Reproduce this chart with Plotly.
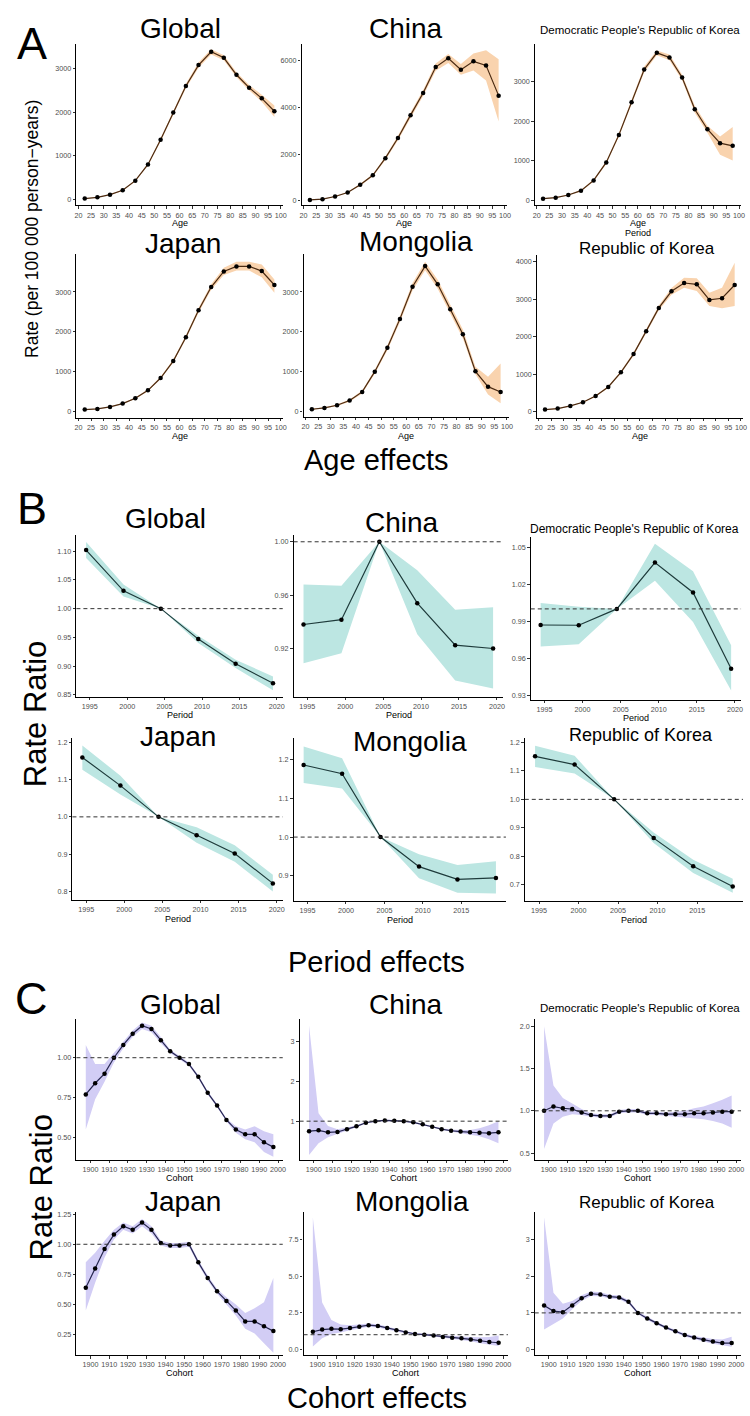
import plotly.graph_objects as go

W, H = 750, 1416

# ---------------- data ----------------
countries = ["Global", "China", "Democratic People's Republic of Korea",
             "Japan", "Mongolia", "Republic of Korea"]

age_mid = [22.5, 27.5, 32.5, 37.5, 42.5, 47.5, 52.5, 57.5, 62.5, 67.5,
           72.5, 77.5, 82.5, 87.5, 92.5, 97.5]
age_ticks = [20, 25, 30, 35, 40, 45, 50, 55, 60, 65, 70, 75, 80, 85, 90, 95, 100]

age_global = [25, 53, 114, 213, 433, 805, 1367, 1989, 2597, 3075, 3379, 3242, 2855, 2559, 2316, 2020]
age_global_lo = [20, 47, 105, 200, 415, 780, 1330, 1945, 2545, 3015, 3320, 3185, 2800, 2500, 2235, 1890]
age_global_hi = [30, 60, 123, 226, 451, 830, 1404, 2033, 2649, 3135, 3438, 3300, 2910, 2620, 2400, 2150]

age_china = [43, 72, 187, 359, 689, 1091, 1823, 2684, 3660, 4607, 5713, 6086, 5598, 5957, 5784, 4493]
age_china_lo = [35, 62, 170, 335, 650, 1040, 1750, 2590, 3550, 4480, 5550, 5885, 5383, 5569, 5138, 3387]
age_china_hi = [51, 82, 204, 383, 728, 1142, 1896, 2778, 3770, 4734, 5860, 6272, 5842, 6287, 6430, 6043]

age_dprk = [42, 67, 134, 244, 504, 958, 1655, 2479, 3311, 3731, 3613, 3109, 2303, 1798, 1445, 1378]
age_dprk_lo = [35, 58, 120, 225, 475, 920, 1605, 2415, 3240, 3670, 3540, 3040, 2215, 1710, 1151, 1008]
age_dprk_hi = [49, 76, 148, 263, 533, 996, 1705, 2543, 3382, 3792, 3686, 3178, 2391, 1886, 1613, 1857]

age_japan = [42, 58, 109, 192, 326, 526, 836, 1262, 1863, 2540, 3125, 3518, 3643, 3643, 3526, 3175]
age_japan_lo = [36, 51, 100, 180, 310, 505, 808, 1225, 1815, 2480, 3055, 3430, 3540, 3540, 3370, 2983]
age_japan_hi = [48, 65, 118, 204, 342, 547, 864, 1299, 1911, 2600, 3195, 3610, 3760, 3760, 3690, 3317]

age_mongolia = [58, 92, 158, 275, 492, 1000, 1600, 2325, 3133, 3650, 3192, 2567, 1942, 1008, 625, 492]
age_mongolia_lo = [45, 76, 138, 248, 455, 950, 1535, 2245, 3040, 3545, 3080, 2450, 1830, 935, 425, 208]
age_mongolia_hi = [71, 108, 178, 302, 529, 1050, 1665, 2405, 3226, 3760, 3305, 2685, 2060, 1125, 875, 1208]

age_rok = [53, 80, 151, 248, 417, 656, 1047, 1534, 2146, 2767, 3211, 3432, 3397, 2980, 3024, 3379]
age_rok_lo = [45, 70, 138, 232, 396, 630, 1013, 1492, 2095, 2705, 3120, 3308, 3220, 2820, 2758, 2820]
age_rok_hi = [61, 90, 164, 264, 438, 682, 1081, 1576, 2197, 2830, 3300, 3574, 3557, 3175, 3308, 3973]

period_mid = [1994.5, 1999.5, 2004.5, 2009.5, 2014.5, 2019.5]
period_ticks = [1995, 2000, 2005, 2010, 2015, 2020]
period_ticks_short = [1995, 2000, 2005, 2010, 2015]

per_global = [1.102, 1.031, 1.0, 0.947, 0.904, 0.870]
per_global_lo = [1.088, 1.021, 1.0, 0.940, 0.8965, 0.858]
per_global_hi = [1.116, 1.042, 1.0, 0.953, 0.911, 0.882]

per_china = [0.938, 0.9416, 1.0, 0.954, 0.9225, 0.920]
per_china_lo = [0.909, 0.9165, 1.0, 0.9307, 0.896, 0.890]
per_china_hi = [0.968, 0.967, 1.0, 0.9786, 0.949, 0.951]

per_dprk = [0.987, 0.9868, 1.0, 1.0374, 1.0133, 0.9517]
per_dprk_lo = [0.9696, 0.9715, 1.0, 1.0227, 0.9895, 0.934]
per_dprk_hi = [1.0047, 1.0018, 1.0, 1.0527, 1.0304, 0.9707]

per_japan = [1.159, 1.0836, 1.0, 0.951, 0.902, 0.822]
per_japan_lo = [1.126, 1.06, 1.0, 0.931, 0.88, 0.80]
per_japan_hi = [1.191, 1.11, 1.0, 0.972, 0.924, 0.845]

per_mongolia = [1.1855, 1.163, 1.0, 0.924, 0.891, 0.895]
per_mongolia_lo = [1.139, 1.125, 1.0, 0.894, 0.857, 0.855]
per_mongolia_hi = [1.233, 1.203, 1.0, 0.956, 0.928, 0.938]

per_rok = [1.151, 1.122, 1.0, 0.864, 0.765, 0.694]
per_rok_lo = [1.114, 1.091, 1.0, 0.847, 0.742, 0.672]
per_rok_hi = [1.188, 1.153, 1.0, 0.884, 0.788, 0.721]

cohort_mid = [1897.5, 1902.5, 1907.5, 1912.5, 1917.5, 1922.5, 1927.5, 1932.5, 1937.5,
              1942.5, 1947.5, 1952.5, 1957.5, 1962.5, 1967.5, 1972.5, 1977.5, 1982.5,
              1987.5, 1992.5, 1997.5]
cohort_ticks = [1900, 1910, 1920, 1930, 1940, 1950, 1960, 1970, 1980, 1990, 2000]

coh_global = [0.77, 0.84, 0.90, 1.00, 1.08, 1.15, 1.20, 1.18, 1.11, 1.04, 1.00, 0.96, 0.88, 0.78, 0.70, 0.61, 0.55, 0.52, 0.52, 0.47, 0.44]
coh_global_lo = [0.55, 0.74, 0.85, 0.97, 1.06, 1.13, 1.18, 1.16, 1.09, 1.03, 0.99, 0.95, 0.87, 0.77, 0.69, 0.60, 0.53, 0.49, 0.47, 0.41, 0.38]
coh_global_hi = [1.08, 0.96, 0.96, 1.03, 1.10, 1.17, 1.22, 1.20, 1.13, 1.05, 1.01, 0.97, 0.89, 0.79, 0.71, 0.62, 0.57, 0.55, 0.57, 0.54, 0.52]

coh_china = [0.75, 0.77, 0.72, 0.73, 0.80, 0.87, 0.96, 1.00, 1.02, 1.01, 1.00, 0.97, 0.92, 0.86, 0.80, 0.76, 0.74, 0.72, 0.71, 0.70, 0.72]
coh_china_lo = [0.15, 0.45, 0.60, 0.68, 0.77, 0.85, 0.94, 0.98, 1.00, 0.99, 0.98, 0.95, 0.90, 0.84, 0.78, 0.73, 0.70, 0.66, 0.62, 0.55, 0.45]
coh_china_hi = [3.40, 1.20, 0.88, 0.80, 0.84, 0.90, 0.98, 1.02, 1.04, 1.03, 1.02, 0.99, 0.94, 0.88, 0.82, 0.79, 0.78, 0.78, 0.82, 0.90, 1.00]

coh_dprk = [1.00, 1.05, 1.03, 1.02, 0.98, 0.95, 0.94, 0.94, 0.99, 1.00, 1.00, 0.97, 0.97, 0.96, 0.96, 0.96, 0.97, 0.97, 0.98, 0.99, 0.99]
coh_dprk_lo = [0.55, 0.85, 0.93, 0.96, 0.95, 0.93, 0.92, 0.92, 0.97, 0.98, 0.98, 0.95, 0.95, 0.94, 0.93, 0.92, 0.91, 0.90, 0.88, 0.85, 0.80]
coh_dprk_hi = [2.00, 1.30, 1.15, 1.08, 1.02, 0.97, 0.96, 0.96, 1.01, 1.02, 1.02, 0.99, 0.99, 0.98, 0.99, 1.00, 1.03, 1.05, 1.09, 1.13, 1.18]

coh_japan = [0.64, 0.80, 0.96, 1.08, 1.15, 1.12, 1.18, 1.12, 1.01, 0.99, 0.99, 1.00, 0.85, 0.72, 0.61, 0.53, 0.45, 0.36, 0.36, 0.32, 0.28]
coh_japan_lo = [0.45, 0.68, 0.89, 1.04, 1.12, 1.09, 1.15, 1.09, 0.99, 0.97, 0.97, 0.98, 0.83, 0.70, 0.59, 0.50, 0.41, 0.30, 0.26, 0.18, 0.10]
coh_japan_hi = [0.85, 0.93, 1.03, 1.12, 1.18, 1.15, 1.21, 1.15, 1.03, 1.01, 1.01, 1.02, 0.87, 0.74, 0.63, 0.56, 0.50, 0.43, 0.47, 0.52, 0.72]

coh_mongolia = [1.20, 1.35, 1.40, 1.38, 1.45, 1.55, 1.65, 1.60, 1.45, 1.30, 1.15, 1.05, 1.00, 0.95, 0.85, 0.80, 0.75, 0.68, 0.58, 0.50, 0.45]
coh_mongolia_lo = [0.20, 0.75, 1.05, 1.15, 1.30, 1.45, 1.55, 1.50, 1.36, 1.22, 1.08, 0.98, 0.93, 0.87, 0.77, 0.71, 0.64, 0.55, 0.42, 0.30, 0.22]
coh_mongolia_hi = [9.00, 3.20, 2.00, 1.70, 1.65, 1.68, 1.76, 1.71, 1.55, 1.40, 1.23, 1.13, 1.08, 1.04, 0.94, 0.90, 0.88, 0.85, 0.82, 0.85, 0.95]

coh_rok = [1.20, 1.05, 1.02, 1.20, 1.40, 1.52, 1.50, 1.44, 1.42, 1.30, 1.00, 0.85, 0.72, 0.60, 0.50, 0.40, 0.33, 0.27, 0.22, 0.18, 0.18]
coh_rok_lo = [0.55, 0.70, 0.85, 1.10, 1.33, 1.46, 1.45, 1.39, 1.37, 1.25, 0.96, 0.81, 0.68, 0.56, 0.46, 0.36, 0.29, 0.22, 0.16, 0.11, 0.08]
coh_rok_hi = [3.60, 1.55, 1.25, 1.32, 1.48, 1.58, 1.56, 1.49, 1.47, 1.35, 1.04, 0.89, 0.76, 0.64, 0.54, 0.44, 0.37, 0.32, 0.29, 0.28, 0.35]

# ---------------- styling helpers ----------------
FONT = "Liberation Sans, Arial, sans-serif"
fig = go.Figure()


def fx(p):
    return p / W


def fy(p):
    return 1 - p / H


counter = [0]


def add_panel(box, xs, ys, lo, hi, xr, yr, xtv, ytv, yfmt, fill, lc, ref):
    counter[0] += 1
    n = counter[0]
    xa = "x" if n == 1 else f"x{n}"
    ya = "y" if n == 1 else f"y{n}"
    xk = "xaxis" if n == 1 else f"xaxis{n}"
    yk = "yaxis" if n == 1 else f"yaxis{n}"
    x0, x1, y0, y1 = box
    common = dict(showline=True, linecolor="black", linewidth=1.2, ticks="outside",
                  ticklen=2.5, tickwidth=1, tickcolor="#333333", showgrid=False,
                  zeroline=False, fixedrange=True, tickangle=0,
                  tickfont=dict(size=7.2, color="#4D4D4D", family=FONT))
    fig.update_layout({
        xk: dict(domain=[fx(x0), fx(x1)], range=xr, anchor=ya, tickvals=xtv, **common),
        yk: dict(domain=[fy(y1), fy(y0)], range=yr, anchor=xa, tickvals=ytv,
                 tickformat=yfmt, **common),
    })
    fig.add_trace(go.Scatter(x=list(xs) + list(xs)[::-1], y=list(hi) + list(lo)[::-1],
                             fill="toself", fillcolor=fill, line=dict(width=0),
                             mode="lines", hoverinfo="skip", showlegend=False,
                             xaxis=xa, yaxis=ya))
    if ref:
        fig.add_shape(type="line", xref=f"{xa} domain", yref=ya, x0=0, x1=1, y0=1, y1=1,
                      line=dict(color="#333333", width=1, dash="4px,3px"), layer="above")
    fig.add_trace(go.Scatter(x=xs, y=ys, mode="lines+markers",
                             line=dict(color=lc, width=1.2),
                             marker=dict(color="black", size=4.5),
                             showlegend=False, xaxis=xa, yaxis=ya))


A_FILL, A_LINE = "#F9D3AE", "#4A2A12"
B_FILL, B_LINE = "#BCE6E2", "#1E3B3B"
C_FILL, C_LINE = "#D2CDF5", "#26264F"

AGE_R = [19.2, 100.8]
PER_R = [1993.2, 2020.8]
COH_R = [1892.5, 2002.5]

# ---- Section A ----
add_panel((75, 283, 42, 204), age_mid, age_global, age_global_lo, age_global_hi,
          AGE_R, [-129, 3561], age_ticks, [0, 1000, 2000, 3000], "d", A_FILL, A_LINE, False)
add_panel((302, 509, 42, 204), age_mid, age_china, age_china_lo, age_china_hi,
          AGE_R, [-187, 6703], age_ticks, [0, 2000, 4000, 6000], "d", A_FILL, A_LINE, False)
add_panel((537, 745, 42, 204), age_mid, age_dprk, age_dprk_lo, age_dprk_hi,
          AGE_R, [-126, 3958], age_ticks, [0, 1000, 2000, 3000], "d", A_FILL, A_LINE, False)
add_panel((75, 283, 253, 417), age_mid, age_japan, age_japan_lo, age_japan_hi,
          AGE_R, [-159, 3953], age_ticks, [0, 1000, 2000, 3000], "d", A_FILL, A_LINE, False)
add_panel((304, 511, 253, 416), age_mid, age_mongolia, age_mongolia_lo, age_mongolia_hi,
          AGE_R, [-125, 3950], age_ticks, [0, 1000, 2000, 3000], "d", A_FILL, A_LINE, False)
add_panel((539, 747, 254, 417), age_mid, age_rok, age_rok_lo, age_rok_hi,
          AGE_R, [-160, 4177], age_ticks, [0, 1000, 2000, 3000, 4000], "d", A_FILL, A_LINE, False)

# ---- Section B ----
add_panel((75, 283, 535, 697), period_mid, per_global, per_global_lo, per_global_hi,
          PER_R, [0.847, 1.128], period_ticks, [0.85, 0.90, 0.95, 1.00, 1.05, 1.10], ".2f",
          B_FILL, B_LINE, True)
add_panel((294, 505, 535, 697), period_mid, per_china, per_china_lo, per_china_hi,
          PER_R, [0.884, 1.005], period_ticks, [0.92, 0.96, 1.00], ".2f", B_FILL, B_LINE, True)
add_panel((533, 745, 537, 700), period_mid, per_dprk, per_dprk_lo, per_dprk_hi,
          PER_R, [0.9268, 1.058], period_ticks, [0.93, 0.96, 0.99, 1.02, 1.05], ".2f",
          B_FILL, B_LINE, True)
add_panel((71, 283, 739, 901), period_mid, per_japan, per_japan_lo, per_japan_hi,
          PER_R, [0.778, 1.21], period_ticks, [0.8, 0.9, 1.0, 1.1, 1.2], ".1f",
          B_FILL, B_LINE, True)
add_panel((294, 508, 739, 902), period_mid, per_mongolia, per_mongolia_lo, per_mongolia_hi,
          PER_R, [0.836, 1.254], period_ticks_short, [0.9, 1.0, 1.1, 1.2], ".1f",
          B_FILL, B_LINE, True)
add_panel((527, 747, 739, 902), period_mid, per_rok, per_rok_lo, per_rok_hi,
          PER_R, [0.644, 1.214], period_ticks_short, [0.7, 0.8, 0.9, 1.0, 1.1, 1.2], ".1f",
          B_FILL, B_LINE, True)

# ---- Section C ----
C1_TOP, C1_BOT = 1021, 1162
C2_TOP, C2_BOT = 1214, 1358
add_panel((75, 283, C1_TOP, C1_BOT), cohort_mid, coh_global, coh_global_lo, coh_global_hi,
          COH_R, [0.36, 1.24], cohort_ticks, [0.50, 0.75, 1.00], ".2f", C_FILL, C_LINE, True)
add_panel((300, 510, C1_TOP, C1_BOT), cohort_mid, coh_china, coh_china_lo, coh_china_hi,
          COH_R, [0.03, 3.55], cohort_ticks, [1, 2, 3], "d", C_FILL, C_LINE, True)
add_panel((537, 745, C1_TOP, C1_BOT), cohort_mid, coh_dprk, coh_dprk_lo, coh_dprk_hi,
          COH_R, [0.42, 2.08], cohort_ticks, [0.5, 1.0, 1.5, 2.0], ".1f", C_FILL, C_LINE, True)
add_panel((75, 283, C2_TOP, C2_BOT), cohort_mid, coh_japan, coh_japan_lo, coh_japan_hi,
          COH_R, [0.08, 1.27], cohort_ticks, [0.25, 0.50, 0.75, 1.00, 1.25], ".2f",
          C_FILL, C_LINE, True)
add_panel((304, 510, C2_TOP, C2_BOT), cohort_mid, coh_mongolia, coh_mongolia_lo, coh_mongolia_hi,
          COH_R, [-0.4, 9.4], cohort_ticks, [0.0, 2.5, 5.0, 7.5], ".1f", C_FILL, C_LINE, True)
add_panel((537, 745, C2_TOP, C2_BOT), cohort_mid, coh_rok, coh_rok_lo, coh_rok_hi,
          COH_R, [-0.15, 3.75], cohort_ticks, [0, 1, 2, 3], "d", C_FILL, C_LINE, True)

# ---------------- text ----------------
ann = []


def txt(s, x, y, size, angle=0, color="black"):
    ann.append(dict(text=s, x=fx(x), y=fy(y), xref="paper", yref="paper",
                    xanchor="center", yanchor="middle", showarrow=False,
                    textangle=angle, font=dict(size=size, family=FONT, color=color)))


# section letters
txt("A", 30, 42, 45)
txt("B", 30, 508, 45)
txt("C", 30, 1000, 45)

# section A titles
txt("Global", 180, 27, 28)
txt("China", 407, 27, 28)
txt(countries[2], 643, 28, 11.5)
txt("Japan", 182, 242, 28)
txt("Mongolia", 417, 240, 28)
txt("Republic of Korea", 650, 247, 17)

for cx, cy in [(179, 222), (405, 222), (641, 222), (179, 436), (407, 436), (643, 436)]:
    txt("Age", cx, cy, 9)
txt("Period", 641, 232, 9)

txt("Rate (per 100 000 person\u2212years)", 30, 228, 17.5, angle=-90)
txt("Age effects", 378, 460, 29)

# section B titles
txt("Global", 165, 518, 28)
txt("China", 403, 522, 28)
txt(countries[2], 638, 529, 12)
txt("Japan", 177, 737, 28)
txt("Mongolia", 411, 742, 28)
txt("Republic of Korea", 644, 736, 18)
for cx, cy in [(179, 716), (400, 716), (639, 719), (177, 920), (401, 921), (637, 921)]:
    txt("Period", cx, cy, 9)
txt("Rate Ratio", 34, 715, 31, angle=-90)
txt("Period effects", 378, 963, 29)

# section C titles
txt("Global", 180, 1006, 28)
txt("China", 407, 1006, 28)
txt(countries[2], 643, 1010, 11.5)
txt("Japan", 182, 1204, 28)
txt("Mongolia", 413, 1204, 28)
txt("Republic of Korea", 650, 1205, 17)
for cx, cy in [(179, C1_BOT + 18), (405, C1_BOT + 18), (641, C1_BOT + 18),
               (179, C2_BOT + 18), (407, C2_BOT + 18), (641, C2_BOT + 18)]:
    txt("Cohort", cx, cy, 9)
txt("Rate Ratio", 40, 1190, 31, angle=-90)
txt("Cohort effects", 378, 1401, 29)

fig.update_layout(width=W, height=H, margin=dict(l=0, r=0, t=0, b=0),
                  paper_bgcolor="white", plot_bgcolor="white",
                  annotations=ann, showlegend=False)

fig.write_html("out.html")
